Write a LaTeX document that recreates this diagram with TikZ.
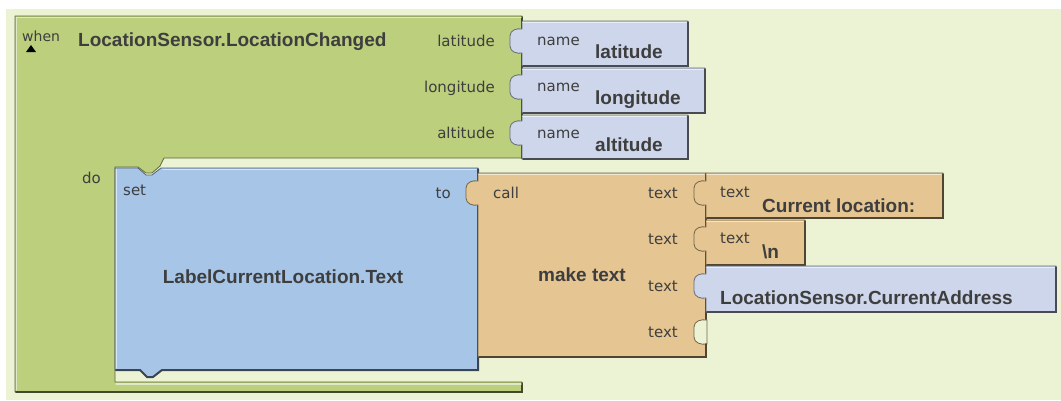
\documentclass[tikz,border=0pt]{standalone}
\usepackage{fontspec}
\setmainfont{Liberation Sans}
\newfontfamily\djv{DejaVu Sans}
\definecolor{bgc}{HTML}{ECF3D4}
\definecolor{grn}{HTML}{BBCF7D}
\definecolor{blu}{HTML}{A6C5E7}
\definecolor{org}{HTML}{E5C592}
\definecolor{nmc}{HTML}{CDD6EA}
\definecolor{txc}{HTML}{3E3E3E}
\newcommand{\smallfnt}{\djv\fontsize{15}{18}\selectfont}
\newcommand{\bigfnt}{\fontsize{19}{22}\selectfont\bfseries}
\tikzset{
  blk/.style={fill=#1, draw=#1!50!black, line width=0.8pt, line join=round},
  bevdark/.style={draw=#1!35!black, line width=2pt, line cap=round},
  bevlight/.style={draw=#1!45!white, line width=1.2pt, line cap=round},
  lbl/.style={font=\smallfnt, text=txc, inner sep=0pt},
  big/.style={font=\bigfnt, text=txc, inner sep=0pt},
}
% colour, X, top, right, bottom, tab centre
\newcommand{\plugblk}[6]{%
  \path[blk=#1] (#2,#3) -- (#4,#3) -- (#4,#5) -- (#2,#5) -- (#2,#6+12)
    .. controls (#2-5,#6+13) and (#2-12,#6+11) .. (#2-12,#6+5)
    -- (#2-12,#6-5)
    .. controls (#2-12,#6-11) and (#2-5,#6-13) .. (#2,#6-12) -- cycle;
  \draw[bevdark=#1] (#4,#3+1) -- (#4,#5) -- (#2+1,#5);
  \draw[bevlight=#1] (#2+1,#3+1.4) -- (#4-2,#3+1.4);
}
\begin{document}
\begin{tikzpicture}[x=1pt,y=-1pt]
\useasboundingbox (0,0) rectangle (1061,400);
\fill[white] (0,0) rectangle (1061,400);
\fill[bgc] (6,9) rectangle (1061,400);

% event block (green)
\path[blk=grn] (15,16) -- (522,16) -- (522,158) -- (164,158) -- (160,166)
  -- (152,173) -- (146,173) -- (138,167) -- (115,167) -- (115,382)
  -- (522,382) -- (522,392) -- (15,392) -- cycle;
\draw[bevdark=grn] (522,17) -- (522,158);
\draw[bevdark=grn] (522,383) -- (522,392) -- (16,392);
\draw[bevlight=grn] (16.5,17.5) -- (521,17.5);
\draw[bevlight=grn] (16.5,17.5) -- (16.5,390);
\draw[bevlight=grn] (116,384) -- (521,384);

% set block (blue)
\path[blk=blu] (115,168) -- (138,168) -- (146,175) -- (152,175) -- (161,168)
  -- (478,168) -- (478,370) -- (162,370) -- (153,377) -- (147,377)
  -- (140,370) -- (115,370) -- cycle;
\draw[bevdark=blu] (478,169) -- (478,370) -- (162,370) -- (153,377) -- (147,377) -- (140,370) -- (116,370);
\draw[bevlight=blu] (163,169.5) -- (476,169.5);
\draw[bevlight=blu] (116.5,169.5) -- (116.5,368);

% make text block (orange)
\plugblk{org}{478}{173}{706}{357}{193}
% empty socket
\path[fill=bgc, draw=org!50!black, line width=0.8pt]
  (707,320) .. controls (701,319) and (694,321) .. (694,327)
  -- (694,337) .. controls (694,343) and (701,345) .. (707,344) -- cycle;
\draw[bevdark=org] (706,344) -- (706,357);

% name blocks
\plugblk{nmc}{522}{21}{688}{66}{41}
\plugblk{nmc}{522}{68}{705}{113}{87}
\plugblk{nmc}{522}{115}{688}{159}{133}

% text blocks
\plugblk{org}{706}{173}{943}{218}{193}
\plugblk{org}{706}{220}{805}{265}{239}
\plugblk{nmc}{706}{266}{1056}{312}{286}

% triangle
\fill[black] (26,52) -- (36,52) -- (31,45) -- cycle;

% labels
\node[lbl, anchor=base west] (when) at (22,41) {\fontsize{14}{16}\selectfont when};
\node[big, anchor=base west] (evt) at (78,46.5) {LocationSensor.LocationChanged};
\node[lbl, anchor=base east] (plat) at (495,46) {latitude};
\node[lbl, anchor=base east] (plon) at (495,92) {longitude};
\node[lbl, anchor=base east] (palt) at (495,138.5) {altitude};

\node[lbl, anchor=base west] (n1) at (537,45) {name};
\node[lbl, anchor=base west] (n2) at (537,91.5) {name};
\node[lbl, anchor=base west] (n3) at (537,138) {name};
\node[big, anchor=base west] (v1) at (595,58.5) {latitude};
\node[big, anchor=base west] (v2) at (595,104.5) {longitude};
\node[big, anchor=base west] (v3) at (595,151) {altitude};

\node[lbl, anchor=base west] (do) at (82,183) {do};
\node[lbl, anchor=base west] (set) at (123,195) {set};
\node[big, anchor=base] (lcl) at (283,283) {LabelCurrentLocation.Text};
\node[lbl, anchor=base east] (to) at (451,198) {to};
\node[lbl, anchor=base west] (call) at (493,198) {call};
\node[big, anchor=base] (mk) at (582,281) {make text};
\node[lbl, anchor=base east] (t1) at (678,198) {text};
\node[lbl, anchor=base east] (t2) at (678,244) {text};
\node[lbl, anchor=base east] (t3) at (678,291) {text};
\node[lbl, anchor=base east] (t4) at (678,337) {text};

\node[lbl, anchor=base west] (s1) at (720,197) {text};
\node[big, anchor=base west] (c1) at (762,212) {Current location:};
\node[lbl, anchor=base west] (s2) at (720,243) {text};
\node[big, anchor=base west] (c2) at (762,258) {\textbackslash n};
\node[big, anchor=base west] (c3) at (720,304) {LocationSensor.CurrentAddress};
\end{tikzpicture}
\end{document}
